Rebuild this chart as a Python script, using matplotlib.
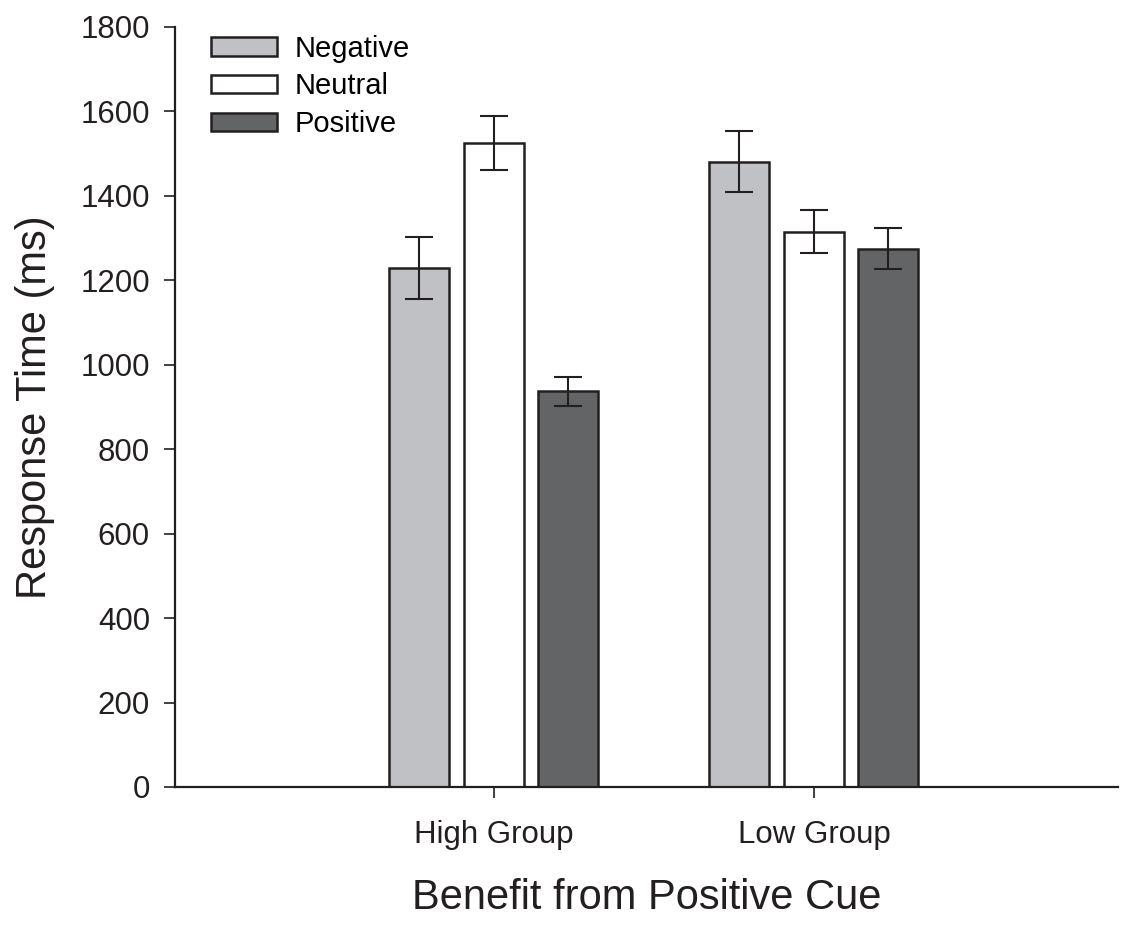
import numpy as np
import matplotlib.pyplot as plt

plt.rcParams['font.family'] = ['Liberation Sans', 'DejaVu Sans']

groups = ['High Group', 'Low Group']
conditions = ['Negative', 'Neutral', 'Positive']
means = {
    'Negative': [1229, 1481],
    'Neutral': [1526, 1315],
    'Positive': [937, 1275],
}
errors = {
    'Negative': [73, 72],
    'Neutral': [64, 51],
    'Positive': [35, 48],
}
colors = {'Negative': '#c0c1c5', 'Neutral': '#ffffff', 'Positive': '#636466'}

fig = plt.figure(figsize=(11.36, 9.30), dpi=100)
ax = fig.add_axes([0.154, 0.1538, 0.83, 0.8172])

x = np.arange(len(groups))
width = 0.1875
step = 0.233
for i, c in enumerate(conditions):
    ax.bar(x + (i - 1) * step, means[c], width, color=colors[c],
           edgecolor='#231f20', linewidth=1.8, label=c,
           yerr=errors[c], capsize=10,
           error_kw=dict(ecolor='#231f20', elinewidth=1.5, capthick=1.5))

ax.set_xlim(-0.997, 1.95)
ax.set_ylim(0, 1800)
ax.set_yticks(range(0, 1801, 200))
ax.set_xticks(x)
ax.set_xticklabels(groups)
ax.tick_params(axis='both', labelsize=22.5, direction='out', length=8,
               width=1.2, colors='#231f20', labelcolor='#231f20')
ax.tick_params(axis='x', pad=15.5)
ax.tick_params(axis='y', pad=10)
for s in ['top', 'right']:
    ax.spines[s].set_visible(False)
for s in ['left', 'bottom']:
    ax.spines[s].set_linewidth(1.6)
    ax.spines[s].set_color('#231f20')

ax.set_ylabel('Response Time (ms)', fontsize=30, color='#231f20', labelpad=18)
ax.set_xlabel('Benefit from Positive Cue', fontsize=30, color='#231f20',
              labelpad=20.5)

ax.legend(loc='upper left', bbox_to_anchor=(0.026, 1.005), frameon=False,
          fontsize=21, handlelength=2.25, handleheight=0.6,
          handletextpad=0.6, labelspacing=0.33, borderaxespad=0)

fig.savefig('out.png', dpi=100)
